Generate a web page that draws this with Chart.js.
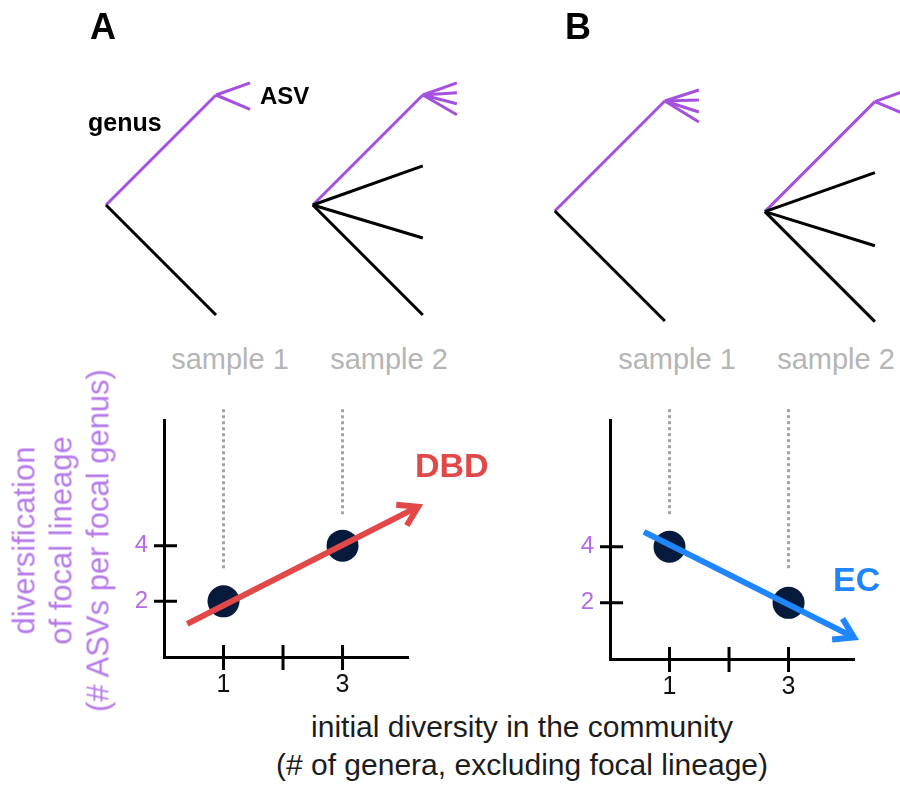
<!DOCTYPE html>
<html>
<head>
<meta charset="utf-8">
<script src="https://cdn.jsdelivr.net/npm/chart.js@4.4.1/dist/chart.umd.min.js"></script>
<style>
  html, body { margin: 0; padding: 0; background: #fff; }
  #page { position: relative; width: 900px; height: 786px; overflow: hidden;
          font-family: 'Liberation Sans', Arial, Helvetica, sans-serif; }
  .box { position: absolute; }
  .box canvas { display: block; }
  .lbl { position: absolute; line-height: 0; white-space: nowrap; }
  .mid { transform: translateX(-50%); }
  .panel { font-size: 36px; font-weight: bold; color: #000; }
  .tree-note { font-weight: bold; color: #000; }
  .sample { font-size: 29px; color: #b5b5b5; }
  .trend { font-size: 34px; font-weight: bold; }
  .xtitle { font-size: 30px; color: #1c1c1c; }
  #ytitle { position: absolute; width: 420px; height: 111px; left: -148.75px; top: 484.5px;
            transform: rotate(-90deg); transform-origin: 50% 50%;
            font-size: 31px; line-height: 37px; text-align: center; color: #b57ae8; white-space: nowrap; }
</style>
</head>
<body>
<div id="page">
  <div class="box" style="left:0;top:0;width:900px;height:340px"><canvas id="trees" width="900" height="340"></canvas></div>
  <div class="box" style="left:0;top:390px;width:450px;height:320px"><canvas id="plotA" width="450" height="320"></canvas></div>
  <div class="box" style="left:450px;top:390px;width:450px;height:320px"><canvas id="plotB" width="450" height="320"></canvas></div>

  <div class="lbl panel" style="left:90px;top:26.5px">A</div>
  <div class="lbl panel" style="left:565px;top:26.5px">B</div>
  <div class="lbl tree-note" style="left:88px;top:122.3px;font-size:25px">genus</div>
  <div class="lbl tree-note" style="left:260px;top:95.7px;font-size:24px">ASV</div>

  <div class="lbl sample mid" style="left:230px;top:359px">sample 1</div>
  <div class="lbl sample mid" style="left:389px;top:359px">sample 2</div>
  <div class="lbl sample mid" style="left:677px;top:359px">sample 1</div>
  <div class="lbl sample mid" style="left:836px;top:359px">sample 2</div>

  <div class="lbl trend" style="left:415px;top:465.2px;color:#e24848">DBD</div>
  <div class="lbl trend" style="left:833px;top:579.2px;color:#1f86ff">EC</div>

  <div id="ytitle">diversification<br>of focal lineage<br>(# ASVs per focal genus)</div>

  <div class="lbl xtitle mid" style="left:522px;top:726.6px">initial diversity in the community</div>
  <div class="lbl xtitle mid" style="left:522px;top:764.6px">(# of genera, excluding focal lineage)</div>
</div>

<script>
// ---- data ----------------------------------------------------------------
// initial number of other genera in each sample
const sampleX = [1, 3];
// ASVs per focal genus in each sample
const dbdY = [2, 4];
const ecY = [4, 2];
// trend arrows: start and end
const dbdArrowX = [0.39, 4.27];
const dbdArrowY = [1.19, 5.40];
const ecArrowX = [0.57, 4.10];
const ecArrowY = [4.53, 0.77];
// dotted guides from the sample labels down towards each point
const guideTop = 8.9;
const dbdGuideBottom = [3.15, 5.05];
const ecGuideBottom = [5.1, 3.2];
// axis ticks
const xTicks = [1, 2, 3];
const xTickLabels = ['1', '', '3'];
const yTicks = [2, 4];
const yTickLabels = ['2', '4'];

// trees (branch units): roots, tips of the other genera, tips of the ASVs of the focal genus
const treeRootX = [0, 1.88, 4.08, 5.99];
const treeRootY = [0, 0, -0.055, -0.06];
const otherGenusTips = [[-1], [0.355, -0.3, -1], [-1], [0.355, -0.31, -1]];
const asvTips = [[0.11, -0.13], [0.11, 0.02, -0.08, -0.18], [0.10, 0.01, -0.10, -0.19], [0.11, -0.13]];
const asvLength = 0.31;

// ---- style ---------------------------------------------------------------
const PURPLE = '#a451df';
const BLACK = '#000000';
const NAVY = '#061a3c';
const GREY = '#a3a3a3';
const TICK_PURPLE = '#b46ae6';

Chart.defaults.font.family = "'Liberation Sans', Arial, Helvetica, sans-serif";
Chart.defaults.animation = false;

// ---- phylogenies -----------------------------------------------------------
function branch(a, b, color) {
  return { type: 'line', data: [a, b], borderColor: color, borderWidth: 3,
           pointRadius: 0, pointHoverRadius: 0, fill: false, tension: 0 };
}
const treeSets = [];
treeRootX.forEach((rx, i) => {
  const ry = treeRootY[i];
  const root = { x: rx, y: ry };
  otherGenusTips[i].forEach(d => treeSets.push(branch(root, { x: rx + 1, y: ry + d }, BLACK)));
  const tip = { x: rx + 1, y: ry + 1 };
  treeSets.push(branch(root, tip, PURPLE));
  asvTips[i].forEach(d => treeSets.push(branch(tip, { x: tip.x + asvLength, y: tip.y + d }, PURPLE)));
});

// one branch unit = 110 px, first root at (106, 205)
const UNIT = 110, ORIGIN_X = 106, ORIGIN_Y = 205, TREE_W = 900, TREE_H = 340;
new Chart(document.getElementById('trees'), {
  type: 'scatter',
  data: { datasets: treeSets },
  options: {
    responsive: false, events: [],
    layout: { padding: 0 },
    plugins: { legend: { display: false }, tooltip: { enabled: false } },
    scales: {
      x: { type: 'linear', display: false, min: -ORIGIN_X / UNIT, max: (TREE_W - ORIGIN_X) / UNIT },
      y: { type: 'linear', display: false, min: -(TREE_H - ORIGIN_Y) / UNIT, max: ORIGIN_Y / UNIT }
    }
  }
});

// ---- scatter panels --------------------------------------------------------
// tick marks crossing the axis lines
const crossTicks = {
  id: 'crossTicks',
  afterDraw(chart) {
    const { ctx, chartArea, scales: { x, y } } = chart;
    ctx.save();
    ctx.strokeStyle = '#000';
    ctx.lineWidth = 3;
    ctx.beginPath();
    xTicks.forEach(v => {
      const px = x.getPixelForValue(v);
      ctx.moveTo(px, chartArea.bottom - 12);
      ctx.lineTo(px, chartArea.bottom + 13);
    });
    yTicks.forEach(v => {
      const py = y.getPixelForValue(v);
      ctx.moveTo(chartArea.left - 10, py);
      ctx.lineTo(chartArea.left + 13, py);
    });
    ctx.stroke();
    ctx.restore();
  }
};

// open arrow heads at the end of the trend lines
const arrowHeads = {
  id: 'arrowHeads',
  afterDatasetsDraw(chart) {
    const ctx = chart.ctx;
    chart.data.datasets.forEach((ds, i) => {
      if (!ds.arrowHead) return;
      const pts = chart.getDatasetMeta(i).data;
      const a = pts[pts.length - 2], b = pts[pts.length - 1];
      const ang = Math.atan2(b.y - a.y, b.x - a.x);
      const len = 22, spread = 32 * Math.PI / 180;
      ctx.save();
      ctx.strokeStyle = ds.borderColor;
      ctx.lineWidth = ds.borderWidth;
      ctx.lineJoin = 'miter';
      ctx.lineCap = 'butt';
      ctx.beginPath();
      ctx.moveTo(b.x - len * Math.cos(ang - spread), b.y - len * Math.sin(ang - spread));
      ctx.lineTo(b.x, b.y);
      ctx.lineTo(b.x - len * Math.cos(ang + spread), b.y - len * Math.sin(ang + spread));
      ctx.stroke();
      ctx.restore();
    });
  }
};

function panel(id, ys, arrowX, arrowY, guideBottom, color, pad) {
  const guides = sampleX.map((x, i) => ({
    type: 'line', data: [{ x, y: guideTop }, { x, y: guideBottom[i] }],
    borderColor: GREY, borderWidth: 3, borderDash: [3, 3], borderCapStyle: 'butt',
    pointRadius: 0, pointHoverRadius: 0, clip: false, order: 2
  }));
  return new Chart(document.getElementById(id), {
    type: 'scatter',
    data: {
      datasets: [
        { type: 'line', data: arrowX.map((x, i) => ({ x, y: arrowY[i] })),
          borderColor: color, borderWidth: 6, borderCapStyle: 'butt',
          pointRadius: 0, pointHoverRadius: 0, clip: false, order: 0, arrowHead: true },
        { type: 'scatter', data: sampleX.map((x, i) => ({ x, y: ys[i] })),
          pointRadius: 16, pointHoverRadius: 16, backgroundColor: NAVY, borderWidth: 0,
          clip: false, order: 1 },
        ...guides
      ]
    },
    options: {
      responsive: false, events: [],
      layout: { padding: pad },
      plugins: { legend: { display: false }, tooltip: { enabled: false } },
      scales: {
        x: {
          type: 'linear', position: 'bottom', min: 0, max: 4.1,
          grid: { display: false, drawTicks: false },
          border: { display: true, color: '#000', width: 3 },
          afterBuildTicks: s => { s.ticks = xTicks.map(v => ({ value: v })); },
          afterFit: s => { s.height = 45; },
          ticks: { color: '#111', font: { size: 25 }, padding: 13, maxRotation: 0, autoSkip: false,
                   callback: (v, i) => xTickLabels[i] }
        },
        y: {
          type: 'linear', position: 'left', min: 0, max: 8.5,
          grid: { display: false, drawTicks: false },
          border: { display: true, color: '#000', width: 3 },
          afterBuildTicks: s => { s.ticks = yTicks.map(v => ({ value: v })); },
          afterFit: s => { s.width = 40; },
          ticks: { color: TICK_PURPLE, font: { size: 24 }, padding: 16, autoSkip: false,
                   callback: (v, i) => yTickLabels[i] }
        }
      }
    },
    plugins: [crossTicks, arrowHeads]
  });
}

panel('plotA', dbdY, dbdArrowX, dbdArrowY, dbdGuideBottom, '#e24848',
      { top: 25, left: 124, right: 42, bottom: 8 });
panel('plotB', ecY, ecArrowX, ecArrowY, ecGuideBottom, '#1f86ff',
      { top: 27, left: 120, right: 46, bottom: 6 });
</script>
</body>
</html>
